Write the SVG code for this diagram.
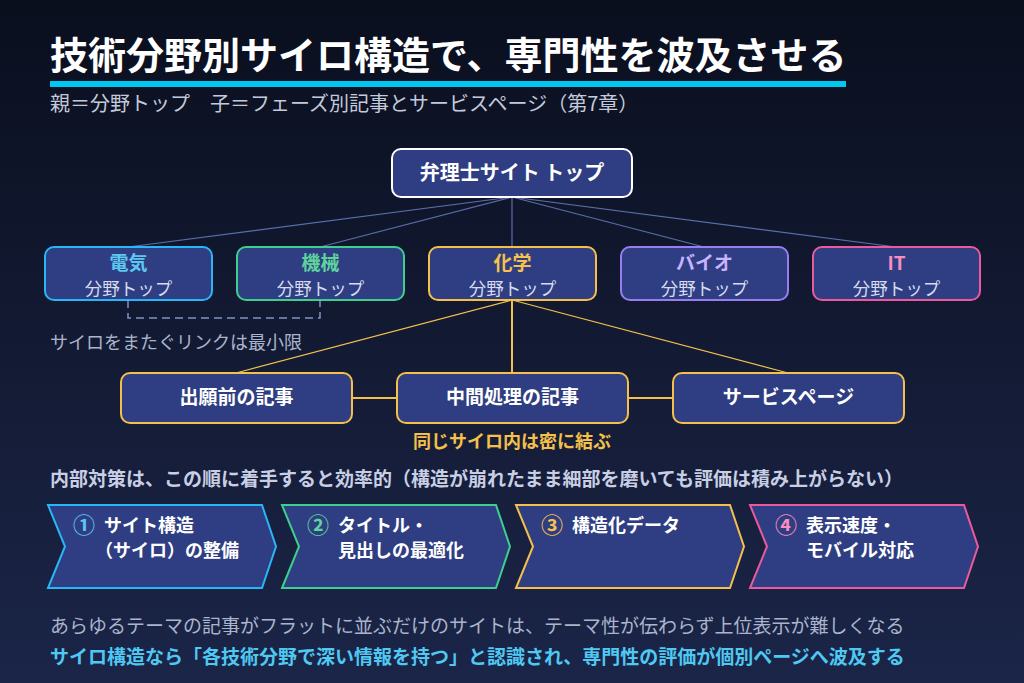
<svg xmlns="http://www.w3.org/2000/svg" width="1024" height="683" viewBox="0 0 1024 683">
<defs>
<linearGradient id="bg" x1="0" y1="0" x2="0" y2="1">
<stop offset="0" stop-color="#0a0f1e"/>
<stop offset="1" stop-color="#1b2548"/>
</linearGradient>
</defs>
<style>
text{font-family:"Noto Sans CJK JP","Noto Sans",sans-serif}
.b{font-weight:700}
.node{fill:#2f3e82;stroke-width:2}
.sub{font-size:17.5px;fill:#d6dbee;text-anchor:middle}
.nt{font-size:19px;font-weight:700;text-anchor:middle}
.lt{font-size:19px;font-weight:700;fill:#ffffff;text-anchor:middle}
.ln{stroke:#5a6ea8;stroke-width:1.2;fill:none}
.yl{stroke:#f5c04a;fill:none}
.chev{fill:#2f3e82;stroke-width:2}
.num{font-size:22px;font-weight:700}
.ct{font-size:18px;font-weight:700;fill:#ffffff}
</style>
<rect width="1024" height="683" fill="url(#bg)"/>
<text x="50" y="69" class="b" font-size="38" fill="#ffffff">技術分野別サイロ構造で、専門性を波及させる</text>
<rect x="50" y="81" width="796" height="6" fill="#00c8f0"/>
<text x="50" y="111" font-size="20" fill="#c3cadb">親＝分野トップ　子＝フェーズ別記事とサービスページ（第7章）</text>

<g id="connectors">
<line class="ln" x1="512" y1="197" x2="128" y2="247"/>
<line class="ln" x1="512" y1="197" x2="320" y2="247"/>
<line class="ln" x1="512" y1="197" x2="512" y2="247"/>
<line class="ln" x1="512" y1="197" x2="704" y2="247"/>
<line class="ln" x1="512" y1="197" x2="896" y2="247"/>
<path d="M128 300 V318 H320 V300" fill="none" stroke="#7f92c4" stroke-width="1.5" stroke-dasharray="8 5"/>
<line class="yl" stroke-width="1.2" x1="512" y1="300" x2="236" y2="373"/>
<line class="yl" stroke-width="2" x1="512" y1="300" x2="512" y2="373"/>
<line class="yl" stroke-width="1.2" x1="512" y1="300" x2="788" y2="373"/>
<line class="yl" stroke-width="2" x1="352" y1="398" x2="397" y2="398"/>
<line class="yl" stroke-width="2" x1="628" y1="398" x2="673" y2="398"/>
</g>

<g id="top">
<rect x="392" y="149" width="240" height="48" rx="9" fill="#2f3e82" stroke="#ffffff" stroke-width="2"/>
<text x="512" y="180" class="lt" style="font-size:20px">弁理士サイト トップ</text>
</g>

<g id="denki">
<rect class="node" x="45" y="247" width="167" height="53" rx="9" stroke="#29b6f6"/>
<text class="nt" x="128.5" y="270" fill="#5cc8f2">電気</text>
<text class="sub" x="128.5" y="295">分野トップ</text>
</g>
<g id="kikai">
<rect class="node" x="237" y="247" width="167" height="53" rx="9" stroke="#3ecf8e"/>
<text class="nt" x="320.5" y="270" fill="#5ed49c">機械</text>
<text class="sub" x="320.5" y="295">分野トップ</text>
</g>
<g id="kagaku">
<rect class="node" x="429" y="247" width="167" height="53" rx="9" stroke="#f5c04a"/>
<text class="nt" x="512.5" y="270" fill="#f7c24c">化学</text>
<text class="sub" x="512.5" y="295">分野トップ</text>
</g>
<g id="bio">
<rect class="node" x="621" y="247" width="167" height="53" rx="9" stroke="#9b7cf0"/>
<text class="nt" x="704.5" y="270" fill="#c8b4ff">バイオ</text>
<text class="sub" x="704.5" y="295">分野トップ</text>
</g>
<g id="it">
<rect class="node" x="813" y="247" width="167" height="53" rx="9" stroke="#ea5a9c"/>
<text class="nt" x="896.5" y="270" fill="#f78fc0">IT</text>
<text class="sub" x="896.5" y="295">分野トップ</text>
</g>

<text x="50" y="349" font-size="18" fill="#aab4cc">サイロをまたぐリンクは最小限</text>

<g id="shutsugan">
<rect class="node" x="121" y="373" width="231" height="50" rx="9" stroke="#f5c04a"/>
<text class="lt" x="236.5" y="404">出願前の記事</text>
</g>
<g id="chukan">
<rect class="node" x="397" y="373" width="231" height="50" rx="9" stroke="#f5c04a"/>
<text class="lt" x="512.5" y="404">中間処理の記事</text>
</g>
<g id="service">
<rect class="node" x="673" y="373" width="231" height="50" rx="9" stroke="#f5c04a"/>
<text class="lt" x="788.5" y="404">サービスページ</text>
</g>

<text x="512" y="448" class="b" font-size="18" fill="#f5c04a" text-anchor="middle">同じサイロ内は密に結ぶ</text>
<text x="50" y="486" class="b" font-size="19" fill="#c8cfe4">内部対策は、この順に着手すると効率的（構造が崩れたまま細部を磨いても評価は積み上がらない）</text>

<g id="step1">
<polygon class="chev" stroke="#29b6f6" points="48,505 262,505 276,546.5 262,588 48,588 65,546.5"/>
<text class="num" x="73" y="533" fill="#5cc8f2">①</text>
<text class="ct" x="104" y="532">サイト構造</text>
<text class="ct" x="95" y="557">（サイロ）の整備</text>
</g>
<g id="step2">
<polygon class="chev" stroke="#3ecf8e" points="282,505 496,505 510,546.5 496,588 282,588 299,546.5"/>
<text class="num" x="307" y="533" fill="#5ed49c">②</text>
<text class="ct" x="338" y="532">タイトル・</text>
<text class="ct" x="338" y="557">見出しの最適化</text>
</g>
<g id="step3">
<polygon class="chev" stroke="#f5c04a" points="516,505 730,505 744,546.5 730,588 516,588 533,546.5"/>
<text class="num" x="541" y="533" fill="#f7c24c">③</text>
<text class="ct" x="572" y="532">構造化データ</text>
</g>
<g id="step4">
<polygon class="chev" stroke="#ea5a9c" points="750,505 964,505 978,546.5 964,588 750,588 767,546.5"/>
<text class="num" x="775" y="533" fill="#f78fc0">④</text>
<text class="ct" x="806" y="532">表示速度・</text>
<text class="ct" x="806" y="557">モバイル対応</text>
</g>

<text x="50" y="633" font-size="19" fill="#aab4cc">あらゆるテーマの記事がフラットに並ぶだけのサイトは、テーマ性が伝わらず上位表示が難しくなる</text>
<text x="50" y="664" class="b" font-size="19" fill="#4fc8f2">サイロ構造なら「各技術分野で深い情報を持つ」と認識され、専門性の評価が個別ページへ波及する</text>
</svg>
